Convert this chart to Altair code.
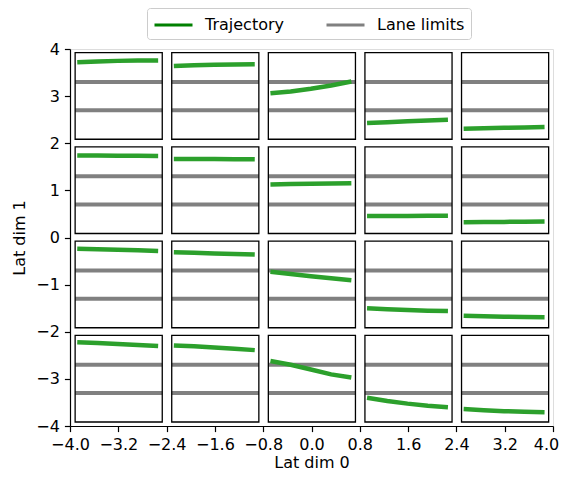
import altair as alt
import pandas as pd

# ---- data ----
x_edges = [-4.0, -2.4, -0.8, 0.8, 2.4, 4.0]      # column boundaries
y_edges = [4.0, 2.0, 0.0, -2.0, -4.0]            # row boundaries (top to bottom)
lane_upper = [3.3, 1.3, -0.7, -2.7]              # per row
lane_lower = [2.7, 0.7, -1.3, -3.3]              # per row
traj_t = [0.0, 0.25, 0.5, 0.75, 1.0]             # relative sample positions along each trajectory
traj_rows = [
    [[3.72, 3.735, 3.748, 3.755, 3.757],
     [3.64, 3.655, 3.665, 3.673, 3.678],
     [3.06, 3.10, 3.155, 3.225, 3.31],
     [2.43, 2.448, 2.466, 2.484, 2.50],
     [2.31, 2.318, 2.327, 2.336, 2.345]],
    [[1.74, 1.738, 1.736, 1.733, 1.73],
     [1.668, 1.666, 1.664, 1.662, 1.66],
     [1.125, 1.135, 1.142, 1.147, 1.15],
     [0.455, 0.457, 0.458, 0.459, 0.46],
     [0.325, 0.328, 0.331, 0.334, 0.337]],
    [[-0.237, -0.248, -0.26, -0.273, -0.286],
     [-0.315, -0.326, -0.337, -0.348, -0.36],
     [-0.725, -0.775, -0.82, -0.865, -0.905],
     [-1.50, -1.522, -1.54, -1.553, -1.56],
     [-1.66, -1.672, -1.681, -1.687, -1.69]],
    [[-2.224, -2.24, -2.26, -2.28, -2.30],
     [-2.29, -2.31, -2.335, -2.36, -2.39],
     [-2.62, -2.70, -2.80, -2.905, -2.97],
     [-3.40, -3.47, -3.525, -3.57, -3.60],
     [-3.64, -3.665, -3.685, -3.70, -3.71]],
]
x_ticks = [-4.0, -3.2, -2.4, -1.6, -0.8, 0.0, 0.8, 1.6, 2.4, 3.2, 4.0]
y_ticks = [-4, -3, -2, -1, 0, 1, 2, 3, 4]
legend_labels = ["Trajectory", "Lane limits"]
legend_colors = ["#008000", "#808080"]

# ---- layout constants (styling) ----
INS_L, INS_R, INS_T, INS_B = 0.085, 0.072, 0.075, 0.085
TRAJ_START, TRAJ_END = 0.12, 1.46

panels, lanes, trajs = [], [], []
for r in range(4):
    for c in range(5):
        pid = f"r{r}c{c}"
        x0 = x_edges[c] + INS_L
        x1 = x_edges[c + 1] - INS_R
        ytop = y_edges[r] - INS_T
        ybot = y_edges[r + 1] + INS_B
        panels.append({"pid": pid, "x": x0, "x2": x1, "y": ybot, "y2": ytop})
        for lv in (lane_upper[r], lane_lower[r]):
            lanes.append({"pid": pid, "x": x0, "x2": x1, "y": lv})
        for t, v in zip(traj_t, traj_rows[r][c]):
            xs = x_edges[c] + TRAJ_START + t * (TRAJ_END - TRAJ_START)
            trajs.append({"pid": pid, "x": xs, "y": v})

panels_df = pd.DataFrame(panels)
lanes_df = pd.DataFrame(lanes)
traj_df = pd.DataFrame(trajs)
legend_df = pd.DataFrame({"series": legend_labels, "x": [0.0, 0.0], "y": [0.0, 0.0]})

FONT = "DejaVu Sans"
xscale = alt.Scale(domain=[-4, 4], nice=False, zero=False)
yscale = alt.Scale(domain=[-4, 4], nice=False, zero=False)
xaxis = alt.Axis(values=x_ticks, labelExpr="replace(format(datum.value, '.1f'), '-', '\u2212')",
                 labelOffset={"condition": {"test": "datum.value > 3.99", "value": -7}, "value": 0},
                 tickSize=5.6, tickWidth=1.2, tickColor="black", domainColor="black", domainWidth=1.2,
                 labelFontSize=16, labelFont=FONT, labelColor="black", labelPadding=5,
                 labelFlush=False, labelOverlap=False, grid=False,
                 title="Lat dim 0", titleFontSize=16, titleFont=FONT, titleFontWeight="normal",
                 titleColor="black", titlePadding=2)
yaxis = alt.Axis(values=y_ticks, labelExpr="replace(format(datum.value, 'd'), '-', '\u2212')",
                 tickSize=5.6, tickWidth=1.2, tickColor="black", domainColor="black", domainWidth=1.2,
                 labelFontSize=16, labelFont=FONT, labelColor="black", labelPadding=5,
                 labelFlush=False, labelOverlap=False, grid=False,
                 title="Lat dim 1", titleFontSize=16, titleFont=FONT, titleFontWeight="normal",
                 titleColor="black", titlePadding=8)

X = lambda f="x": alt.X(f"{f}:Q", scale=xscale, axis=xaxis)
Y = lambda f="y": alt.Y(f"{f}:Q", scale=yscale, axis=yaxis)

rects = alt.Chart(panels_df).mark_rect(fillOpacity=0, stroke="black", strokeWidth=1.3).encode(
    x=X(), x2="x2:Q", y=Y(), y2="y2:Q")

lane_rules = alt.Chart(lanes_df).mark_rule(color="#808080", strokeWidth=4).encode(
    x=X(), x2="x2:Q", y=Y(), detail="pid:N")

traj_lines = alt.Chart(traj_df).mark_line(color="#2ca02c", strokeWidth=4.5).encode(
    x=X(), y=Y(), detail="pid:N")

legend_layer = alt.Chart(legend_df).mark_line(strokeWidth=2.8).encode(
    x=X(), y=Y(),
    stroke=alt.Stroke("series:N",
                      scale=alt.Scale(domain=legend_labels, range=legend_colors),
                      legend=alt.Legend(orient="none", legendX=77, legendY=-41, direction="horizontal",
                                        title=None, symbolType="M-1,0H3", symbolSize=361,
                                        symbolStrokeWidth=2.8, labelFontSize=16, labelFont=FONT,
                                        labelColor="black", labelOffset=30, columnPadding=36,
                                        padding=6, strokeColor="#cccccc", fillColor="white",
                                        cornerRadius=3))
).transform_filter("false")

chart = alt.layer(lane_rules, traj_lines, rects, legend_layer).properties(
    width=483, height=377,
    autosize=alt.AutoSizeParams(type="none"),
    padding={"left": 62, "top": 41, "right": 6, "bottom": 45},
).configure_view(stroke="black", strokeWidth=1.2).configure(font=FONT)

chart.save("out.html", embed_options={"renderer": "svg", "actions": False})
